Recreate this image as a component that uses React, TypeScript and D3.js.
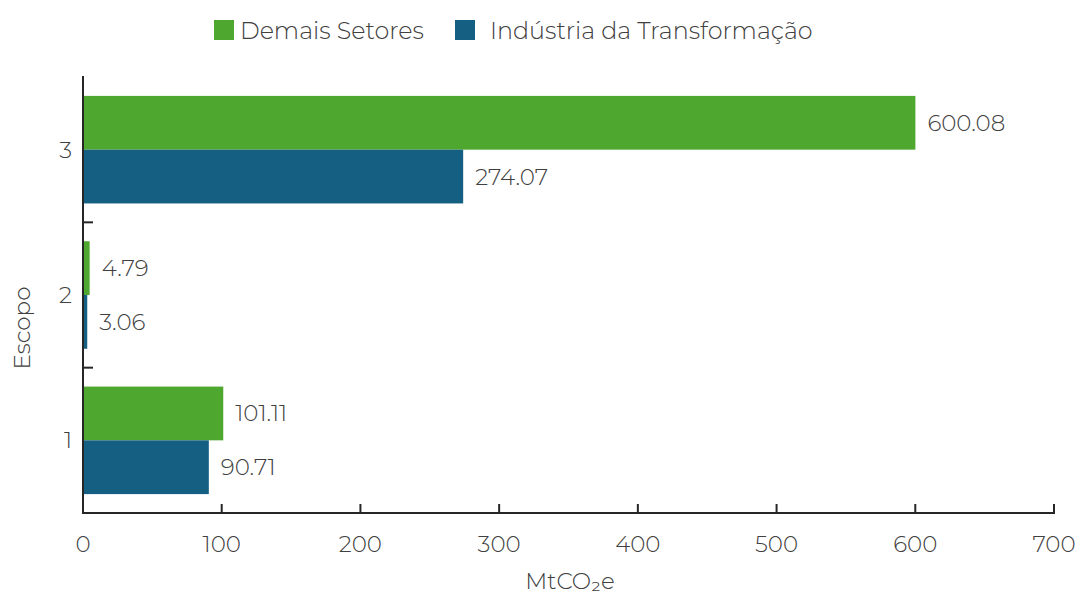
import React, { useEffect, useRef } from "react";
import * as d3 from "d3";

const categories = ["1", "2", "3"];
const seriesNames = ["Demais Setores", "Indústria da Transformação"];
const demaisSetores = [101.11, 4.79, 600.08];
const industria = [90.71, 3.06, 274.07];
const xTicks = [0, 100, 200, 300, 400, 500, 600, 700];
const colors = ["#4EA72E", "#156082"];

const W = 1077;
const H = 596;
const FONT = "Montserrat, Lato, 'Open Sans', sans-serif";
const TEXT = "#404040";
const AXIS = "#262626";

const App: React.FC = () => {
  const svgRef = useRef<SVGSVGElement | null>(null);

  useEffect(() => {
    if (!svgRef.current) return;
    const svg = d3.select(svgRef.current);
    svg.selectAll("*").remove();

    const margin = { top: 77, right: 23, bottom: 83, left: 83 };
    const plotBottom = H - margin.bottom;

    const x = d3.scaleLinear().domain([0, 700]).range([margin.left, W - margin.right]);
    const y = d3
      .scaleBand<string>()
      .domain(categories)
      .range([plotBottom, margin.top])
      .paddingInner(0.26)
      .paddingOuter(0.13);
    const inner = d3.scaleBand<number>().domain([0, 1]).range([0, y.bandwidth()]);

    const rows = categories.map((c, i) => ({ cat: c, values: [demaisSetores[i], industria[i]] }));

    // bars
    rows.forEach(r => {
      r.values.forEach((v, s) => {
        const by = (y(r.cat) as number) + (inner(s) as number);
        svg
          .append("rect")
          .attr("x", x(0))
          .attr("y", by)
          .attr("width", x(v) - x(0))
          .attr("height", inner.bandwidth())
          .attr("fill", colors[s]);
        svg
          .append("text")
          .attr("x", x(v) + 12)
          .attr("y", by + inner.bandwidth() / 2)
          .attr("dominant-baseline", "central")
          .style("font-family", FONT)
          .style("font-weight", 300)
          .style("font-size", "23px")
          .style("fill", TEXT)
          .text(v.toFixed(2).replace(/0$/, "").replace(/\.$/, ""));
      });
    });

    // y axis
    svg
      .append("line")
      .attr("x1", x(0))
      .attr("x2", x(0))
      .attr("y1", margin.top - 1)
      .attr("y2", plotBottom)
      .attr("stroke", AXIS)
      .attr("stroke-width", 2);

    const step = y.step();
    categories.slice(0, -1).forEach(c => {
      const ty = (y(c) as number) - (step - y.bandwidth()) / 2;
      svg
        .append("line")
        .attr("x1", x(0))
        .attr("x2", x(0) + 10)
        .attr("y1", ty)
        .attr("y2", ty)
        .attr("stroke", AXIS)
        .attr("stroke-width", 2);
    });

    categories.forEach(c => {
      svg
        .append("text")
        .attr("x", x(0) - 11)
        .attr("y", (y(c) as number) + y.bandwidth() / 2)
        .attr("text-anchor", "end")
        .attr("dominant-baseline", "central")
        .style("font-family", FONT)
        .style("font-weight", 300)
        .style("font-size", "23px")
        .style("fill", TEXT)
        .text(c);
    });

    // x axis
    svg
      .append("line")
      .attr("x1", x(0) - 1)
      .attr("x2", x(700) + 1)
      .attr("y1", plotBottom)
      .attr("y2", plotBottom)
      .attr("stroke", AXIS)
      .attr("stroke-width", 2);

    xTicks.forEach(t => {
      svg
        .append("line")
        .attr("x1", x(t))
        .attr("x2", x(t))
        .attr("y1", plotBottom)
        .attr("y2", plotBottom - 9)
        .attr("stroke", AXIS)
        .attr("stroke-width", 2);
      svg
        .append("text")
        .attr("x", x(t))
        .attr("y", 552)
        .attr("text-anchor", "middle")
        .style("font-family", FONT)
        .style("font-weight", 300)
        .style("font-size", "23px")
        .style("fill", TEXT)
        .text(t);
    });

    // axis titles
    svg
      .append("text")
      .attr("x", 570)
      .attr("y", 589)
      .attr("text-anchor", "middle")
      .style("font-family", FONT)
      .style("font-weight", 300)
      .style("font-size", "23px")
      .style("fill", TEXT)
      .text("MtCO₂e");

    svg
      .append("text")
      .attr("transform", `translate(30,328) rotate(-90)`)
      .attr("text-anchor", "middle")
      .style("font-family", FONT)
      .style("font-weight", 300)
      .style("font-size", "23px")
      .style("fill", TEXT)
      .text("Escopo");

    // legend
    const legendX = [214, 455];
    seriesNames.forEach((name, i) => {
      svg
        .append("rect")
        .attr("x", legendX[i])
        .attr("y", 20)
        .attr("width", 20)
        .attr("height", 20)
        .attr("fill", colors[i]);
      svg
        .append("text")
        .attr("x", legendX[i] + (i === 0 ? 26 : 35))
        .attr("y", 30)
        .attr("dominant-baseline", "central")
        .style("font-family", FONT)
        .style("font-weight", 300)
        .style("font-size", "23.8px")
        .style("fill", TEXT)
        .text(name);
    });
  }, []);

  return (
    <svg
      ref={svgRef}
      width={W}
      height={H}
      style={{ position: "absolute", left: 0, top: 0, background: "#fff", display: "block" }}
    />
  );
};

export default App;
